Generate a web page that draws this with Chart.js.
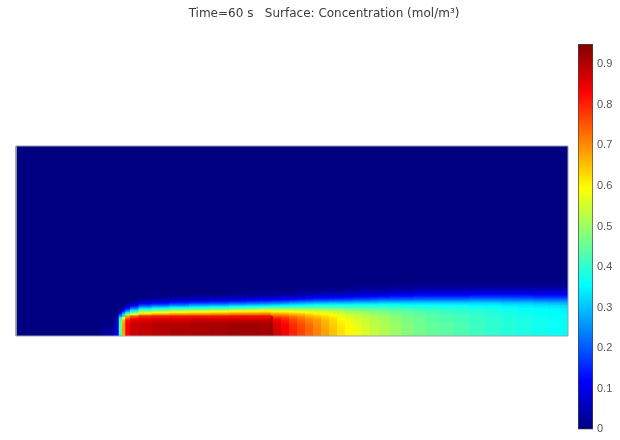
<!DOCTYPE html>
<html><head><meta charset="utf-8">
<script src="https://cdn.jsdelivr.net/npm/chart.js@4.4.1/dist/chart.umd.min.js"></script>
<style>
html,body{margin:0;padding:0;background:#fff;overflow:hidden;width:620px;height:440px;}
canvas{position:absolute;left:0;top:0;}
</style></head><body>
<canvas id="field" width="632" height="440"></canvas>
<canvas id="cbar" width="620" height="440"></canvas>
<script>
const titleText = 'Time=60 s   Surface: Concentration (mol/m³)';
const domainX = [0, 29];
const domainY = [0, 10];
const blockX = [5.52, 13.45];
const blockTop = 1.05;

// column centres (mm along the channel)
const colX = [0.74, 3.89, 5.04, 5.36, 5.54, 5.70, 5.88, 6.20, 6.78, 7.57, 8.62, 9.67, 10.72, 11.77, 12.61, 13.13,
  13.76, 14.19, 14.61, 15.03, 15.45, 15.87, 16.29, 16.71, 17.13, 17.55, 17.97, 18.39, 18.86, 19.39, 19.96,
  20.59, 21.23, 21.91, 22.64, 23.43, 24.27, 25.11, 25.95, 26.79, 27.63, 28.37, 29.0];
// heights above the lower wall (mm) at which each column profile is read
const rowH = [0, 0.3, 0.6, 0.8, 0.95, 1.05, 1.15, 1.3, 1.45, 1.6, 1.75, 1.9, 2.1, 2.3, 2.6, 3.0, 10];
// concentration profiles (mol/m³), one per column, bottom to top
const profiles = [
  [0,0,0,0,0,0,0,0,0,0,0,0,0,0,0,0,0],
  [0,0,0,0,0,0,0,0,0,0,0,0,0,0,0,0,0],
  [0.03,0.02,0.01,0,0,0,0,0,0,0,0,0,0,0,0,0,0],
  [0.1,0.09,0.07,0.05,0.03,0.02,0.01,0,0,0,0,0,0,0,0,0,0],
  [0.42,0.44,0.44,0.42,0.36,0.26,0.16,0.06,0.02,0,0,0,0,0,0,0,0],
  [0.66,0.68,0.68,0.66,0.58,0.45,0.3,0.15,0.05,0.01,0,0,0,0,0,0,0],
  [0.83,0.84,0.84,0.82,0.74,0.6,0.45,0.27,0.13,0.05,0.01,0,0,0,0,0,0],
  [0.87,0.88,0.88,0.86,0.8,0.7,0.56,0.38,0.23,0.11,0.04,0.01,0,0,0,0,0],
  [0.88,0.89,0.89,0.87,0.83,0.76,0.65,0.49,0.33,0.19,0.09,0.03,0,0,0,0,0],
  [0.89,0.9,0.9,0.88,0.84,0.77,0.68,0.52,0.37,0.22,0.11,0.04,0.01,0,0,0,0],
  [0.9,0.91,0.9,0.88,0.84,0.78,0.69,0.55,0.4,0.25,0.14,0.06,0.01,0,0,0,0],
  [0.91,0.91,0.91,0.89,0.85,0.78,0.7,0.56,0.42,0.28,0.16,0.07,0.02,0,0,0,0],
  [0.91,0.92,0.91,0.89,0.85,0.78,0.71,0.57,0.43,0.29,0.17,0.08,0.02,0,0,0,0],
  [0.92,0.92,0.92,0.89,0.85,0.79,0.72,0.59,0.45,0.31,0.19,0.09,0.03,0,0,0,0],
  [0.92,0.92,0.92,0.89,0.85,0.79,0.72,0.6,0.46,0.32,0.2,0.1,0.03,0.01,0,0,0],
  [0.91,0.92,0.91,0.89,0.85,0.79,0.73,0.61,0.47,0.33,0.21,0.11,0.04,0.01,0,0,0],
  [0.87,0.87,0.86,0.84,0.8,0.75,0.69,0.59,0.47,0.34,0.22,0.12,0.04,0.01,0,0,0],
  [0.84,0.84,0.83,0.81,0.78,0.74,0.68,0.59,0.47,0.35,0.23,0.13,0.05,0.01,0,0,0],
  [0.8,0.8,0.79,0.77,0.75,0.71,0.66,0.58,0.47,0.36,0.25,0.14,0.05,0.01,0,0,0],
  [0.77,0.77,0.76,0.74,0.72,0.69,0.65,0.57,0.47,0.36,0.26,0.15,0.06,0.02,0,0,0],
  [0.74,0.74,0.73,0.71,0.69,0.66,0.63,0.56,0.47,0.37,0.27,0.16,0.07,0.02,0,0,0],
  [0.71,0.71,0.7,0.69,0.67,0.64,0.61,0.55,0.47,0.38,0.28,0.17,0.08,0.02,0,0,0],
  [0.68,0.68,0.67,0.66,0.64,0.62,0.6,0.54,0.47,0.38,0.28,0.17,0.08,0.03,0,0,0],
  [0.65,0.65,0.64,0.63,0.62,0.6,0.58,0.53,0.46,0.38,0.29,0.18,0.09,0.03,0,0,0],
  [0.62,0.62,0.61,0.6,0.59,0.58,0.56,0.52,0.46,0.38,0.29,0.18,0.09,0.03,0,0,0],
  [0.6,0.6,0.59,0.58,0.57,0.56,0.54,0.5,0.45,0.38,0.29,0.19,0.1,0.04,0,0,0],
  [0.58,0.58,0.57,0.56,0.55,0.54,0.53,0.49,0.45,0.38,0.3,0.2,0.1,0.04,0.01,0,0],
  [0.56,0.56,0.55,0.55,0.54,0.53,0.52,0.48,0.44,0.38,0.3,0.2,0.11,0.05,0.01,0,0],
  [0.54,0.54,0.53,0.53,0.52,0.51,0.5,0.47,0.43,0.38,0.3,0.21,0.11,0.05,0.01,0,0],
  [0.52,0.52,0.52,0.51,0.51,0.5,0.49,0.46,0.43,0.38,0.31,0.22,0.12,0.05,0.01,0,0],
  [0.5,0.5,0.5,0.49,0.49,0.48,0.47,0.45,0.42,0.38,0.31,0.22,0.13,0.06,0.01,0,0],
  [0.48,0.48,0.48,0.47,0.47,0.46,0.46,0.44,0.41,0.37,0.31,0.22,0.13,0.06,0.01,0,0],
  [0.465,0.465,0.46,0.46,0.455,0.45,0.445,0.43,0.4,0.37,0.31,0.23,0.14,0.07,0.02,0,0],
  [0.45,0.45,0.45,0.44,0.44,0.44,0.43,0.42,0.4,0.36,0.31,0.23,0.14,0.07,0.02,0,0],
  [0.44,0.44,0.44,0.43,0.43,0.43,0.42,0.41,0.39,0.36,0.31,0.23,0.14,0.07,0.02,0,0],
  [0.43,0.43,0.43,0.42,0.42,0.42,0.41,0.4,0.39,0.36,0.31,0.23,0.14,0.07,0.02,0,0],
  [0.415,0.415,0.41,0.41,0.41,0.405,0.4,0.395,0.38,0.35,0.31,0.24,0.15,0.08,0.02,0,0],
  [0.4,0.4,0.4,0.4,0.4,0.395,0.39,0.385,0.375,0.35,0.31,0.24,0.15,0.08,0.02,0,0],
  [0.39,0.39,0.39,0.39,0.385,0.385,0.38,0.375,0.365,0.34,0.3,0.23,0.15,0.08,0.02,0,0],
  [0.38,0.38,0.38,0.38,0.375,0.375,0.37,0.365,0.355,0.335,0.3,0.23,0.15,0.08,0.02,0,0],
  [0.37,0.37,0.37,0.37,0.37,0.365,0.365,0.36,0.35,0.33,0.29,0.22,0.14,0.08,0.02,0,0],
  [0.365,0.365,0.365,0.365,0.36,0.36,0.355,0.355,0.345,0.325,0.285,0.22,0.14,0.08,0.02,0,0],
  [0.36,0.36,0.36,0.36,0.36,0.36,0.35,0.35,0.34,0.32,0.28,0.22,0.14,0.08,0.02,0,0]
];
const cbRange = [0, 0.95];
const cbTicks = [0, 0.1, 0.2, 0.3, 0.4, 0.5, 0.6, 0.7, 0.8, 0.9];
const cbTickLabels = ['0', '0.1', '0.2', '0.3', '0.4', '0.5', '0.6', '0.7', '0.8', '0.9'];
const jetBreaks = [0, 0.125, 0.375, 0.625, 0.875, 1];

function clamp01(a){ return Math.max(0, Math.min(1, a)); }
function jetT(t){
  t = clamp01(t);
  const r = clamp01(1.5 - Math.abs(4*t - 3));
  const g = clamp01(1.5 - Math.abs(4*t - 2));
  const b = clamp01(1.5 - Math.abs(4*t - 1));
  return 'rgb(' + Math.round(r*255) + ',' + Math.round(g*255) + ',' + Math.round(b*255) + ')';
}
function jetV(v){ return jetT((v - cbRange[0]) / (cbRange[1] - cbRange[0])); }

function columnFill(ctx){
  const chart = ctx.chart;
  if (!chart.chartArea || ctx.type !== 'data') return jetV(0);
  const ys = chart.scales.y;
  const g = chart.ctx.createLinearGradient(0, ys.getPixelForValue(domainY[0]), 0, ys.getPixelForValue(domainY[1]));
  const p = profiles[ctx.dataIndex];
  const span = domainY[1] - domainY[0];
  const SUB = 6;
  for (let j = 0; j < rowH.length - 1; j++) {
    for (let k = 0; k <= SUB; k++) {
      const f = k / SUB;
      const h = rowH[j] + (rowH[j+1] - rowH[j]) * f;
      const v = p[j] + (p[j+1] - p[j]) * f;
      g.addColorStop(clamp01((h - domainY[0]) / span), jetV(v));
    }
  }
  return g;
}

function cbFill(ctx){
  const chart = ctx.chart;
  if (!chart.chartArea) return jetT(1);
  const ys = chart.scales.y;
  const g = chart.ctx.createLinearGradient(0, ys.getPixelForValue(cbRange[0]), 0, ys.getPixelForValue(cbRange[1]));
  jetBreaks.forEach(t => g.addColorStop(t, jetT(t)));
  return g;
}

const fieldData = colX.map(x => ({ x: x, y: [domainY[0], domainY[1]] }));
const domainOutline = [
  {x: domainX[0], y: domainY[0]}, {x: domainX[1], y: domainY[0]},
  {x: domainX[1], y: domainY[1]}, {x: domainX[0], y: domainY[1]}, {x: domainX[0], y: domainY[0]}
];
const blockOutline = [
  {x: blockX[0], y: blockTop}, {x: blockX[1], y: blockTop}, {x: blockX[1], y: domainY[0]}
];

new Chart(document.getElementById('field'), {
  type: 'bar',
  data: {
    datasets: [
      { type: 'line', data: domainOutline, borderColor: '#9aa0aa', borderWidth: 1, pointRadius: 0, fill: false, clip: false, order: 0, tension: 0 },
      { type: 'line', data: blockOutline, borderColor: 'rgba(60,0,0,0.35)', borderWidth: 1, pointRadius: 0, fill: false, order: 1, tension: 0 },
      { type: 'bar', data: fieldData, backgroundColor: columnFill, borderWidth: 0, inflateAmount: 1,
        barThickness: 'flex', barPercentage: 1, categoryPercentage: 1, order: 2 }
    ]
  },
  options: {
    responsive: false,
    animation: false,
    devicePixelRatio: 1,
    layout: { padding: { left: 16, right: 0, top: 0, bottom: 104 } },
    plugins: {
      legend: { display: false },
      tooltip: { enabled: false },
      title: {
        display: true, text: titleText, color: '#3a3a3a',
        font: { family: 'DejaVu Sans', size: 12, weight: 'normal', lineHeight: 1.2 },
        padding: { top: 7, bottom: 124.6 }
      }
    },
    scales: {
      x: { type: 'linear', min: domainX[0], max: domainX[1], offset: false, display: false },
      y: { type: 'linear', min: domainY[0], max: domainY[1], position: 'right', display: true,
           ticks: { display: false }, grid: { display: false }, border: { display: false },
           afterFit: s => { s.width = 64; } }
    }
  }
});

new Chart(document.getElementById('cbar'), {
  type: 'bar',
  data: {
    labels: ['c'],
    datasets: [{ data: [[cbRange[0], cbRange[1]]], backgroundColor: cbFill, borderColor: '#444',
      borderWidth: 1, borderSkipped: false, barPercentage: 1, categoryPercentage: 1 }]
  },
  options: {
    responsive: false,
    animation: false,
    devicePixelRatio: 1,
    layout: { padding: { left: 578, right: 0, top: 44, bottom: 8 } },
    plugins: { legend: { display: false }, tooltip: { enabled: false } },
    scales: {
      x: { display: false },
      y: { min: cbRange[0], max: cbRange[1], position: 'right',
           afterBuildTicks: s => { s.ticks = cbTicks.map(v => ({ value: v })); },
           afterFit: s => { s.width = 27; },
           ticks: { color: '#555', padding: 4, font: { family: 'Liberation Sans', size: 11 },
                    callback: (v, i) => cbTickLabels[i] },
           grid: { display: false, drawTicks: false }, border: { display: false } }
    }
  }
});
</script>
</body></html>
